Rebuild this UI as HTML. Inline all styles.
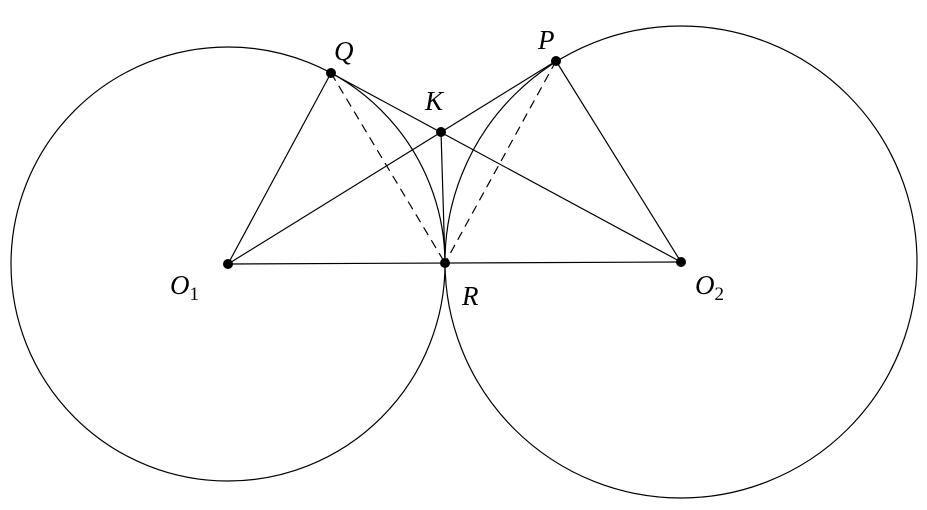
<!DOCTYPE html>
<html><head><meta charset="utf-8"><style>
html,body{margin:0;padding:0;background:#fff;}
svg{display:block;}
text{font-family:"Liberation Serif",serif;font-style:italic;font-size:27px;fill:#000;}
.sub{font-style:normal;font-size:19px;}
</style></head><body>
<svg width="927" height="510" viewBox="0 0 927 510">
<g fill="none" stroke="#000" stroke-width="1.2">
<circle cx="228" cy="264" r="217"/>
<circle cx="681" cy="262" r="236"/>
<line x1="228" y1="264" x2="681" y2="262"/>
<line x1="228" y1="264" x2="331" y2="73"/>
<line x1="228" y1="264" x2="556" y2="61"/>
<line x1="331" y1="73" x2="681" y2="262"/>
<line x1="556" y1="61" x2="681" y2="262"/>
<line x1="441" y1="132" x2="445" y2="263"/>
<line x1="331" y1="73" x2="445" y2="263" stroke-dasharray="9,6"/>
<line x1="556" y1="61" x2="445" y2="263" stroke-dasharray="9,6"/>
</g>
<g fill="#000">
<circle cx="228" cy="264" r="5"/>
<circle cx="445" cy="263" r="5"/>
<circle cx="681" cy="262" r="5"/>
<circle cx="331" cy="73" r="5"/>
<circle cx="556" cy="61" r="5"/>
<circle cx="441" cy="132" r="5"/>
</g>
<text x="334" y="60">Q</text>
<text x="538" y="49">P</text>
<text x="425" y="110">K</text>
<text x="170" y="294">O<tspan class="sub" dy="6">1</tspan></text>
<text x="462" y="305">R</text>
<text x="695" y="294">O<tspan class="sub" dy="6">2</tspan></text>
</svg>
</body></html>
